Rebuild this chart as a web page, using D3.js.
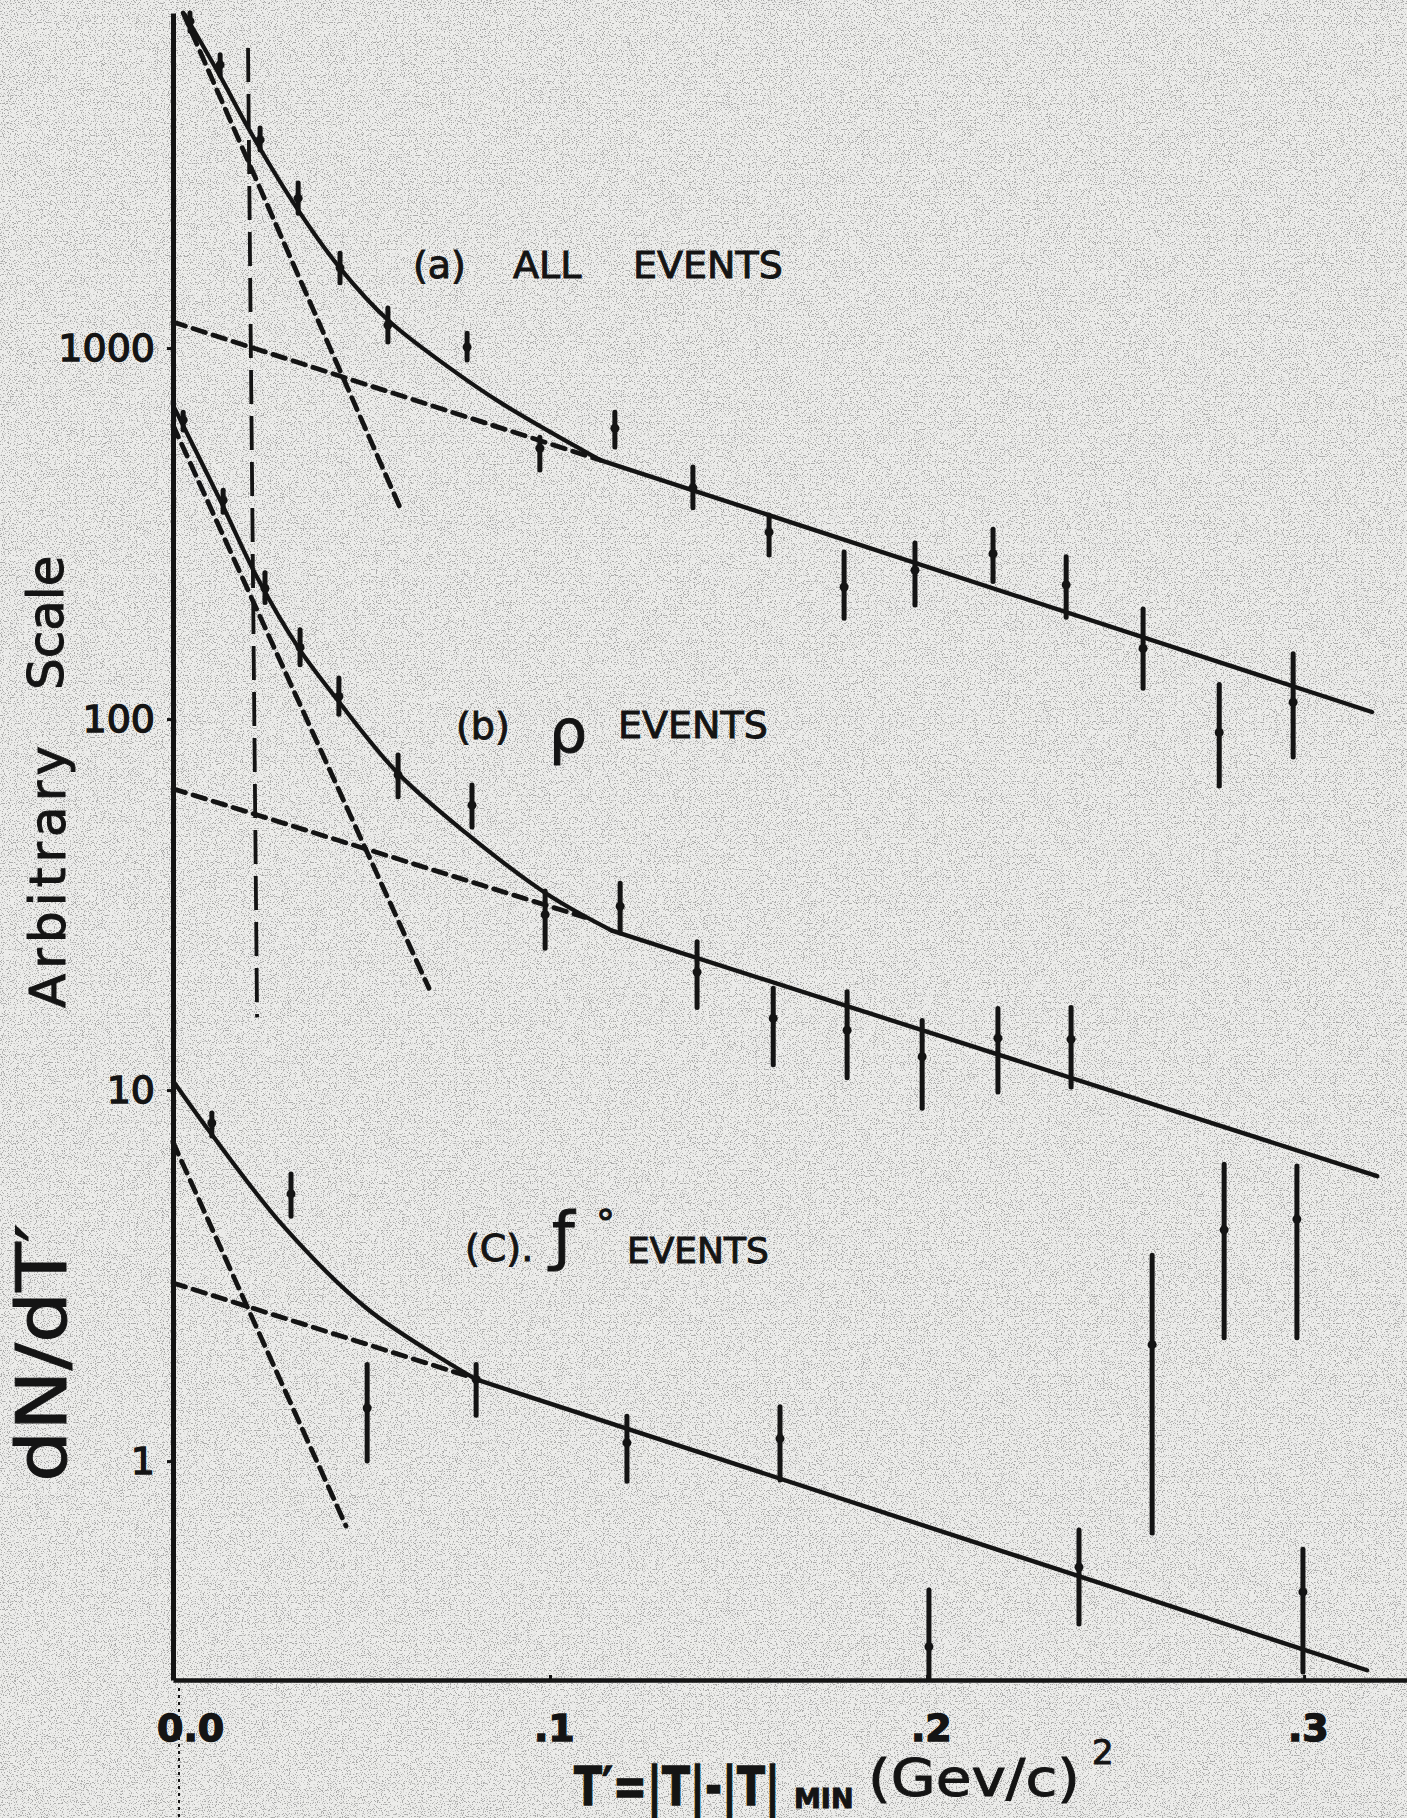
<!DOCTYPE html>
<html lang="en">
  <head>
    <meta charset="UTF-8" />
    <title>dN/dT' versus T' : all, rho and f events</title>
    <script src="https://d3js.org/d3.v7.min.js"></script>
    <style>
      body { margin: 0; background: #ececea; }
      svg { display: block; }
      .lbl { font-family: "DejaVu Sans", sans-serif; fill: #141414; stroke: #141414; stroke-width: 1px; }
      .axis text { font-family: "DejaVu Sans", sans-serif; fill: #141414; stroke: #141414; stroke-width: 1.4px; }
    </style>
  </head>
  <body>
    <svg id="chart" width="1407" height="1818"></svg>

    <script>
      // ---- data: [T', value, low, high] ----
      const allEvents = [
        [0.0045, 7600, 7150, 8000],
        [0.0125, 5800, 5440, 6170],
        [0.0231, 3640, 3420, 3920],
        [0.0332, 2535, 2310, 2785],
        [0.0443, 1645, 1500, 1800],
        [0.057, 1153, 1038, 1283],
        [0.078, 1006, 929, 1097],
        [0.0973, 537, 469, 575],
        [0.1172, 608, 541, 671],
        [0.1379, 420, 371, 478],
        [0.1581, 319, 277, 355],
        [0.178, 227, 187, 282],
        [0.1968, 252, 203, 298],
        [0.2175, 279, 235, 325],
        [0.2369, 230, 188, 274],
        [0.2573, 155, 121, 198],
        [0.2775, 92, 66, 124],
        [0.2971, 111, 79, 150]
      ];
      const rhoEvents = [
        [0.0027, 640, 601, 671],
        [0.0133, 389, 361, 414],
        [0.0244, 225, 206, 248],
        [0.0337, 156, 140, 174],
        [0.044, 115, 103, 129],
        [0.0597, 70.7, 61.7, 80],
        [0.0793, 58.6, 51.2, 66.4],
        [0.0987, 29.7, 24.1, 34.4],
        [0.1186, 31.3, 26.5, 36.1],
        [0.139, 20.8, 16.7, 25.1],
        [0.1592, 15.6, 11.7, 18.8],
        [0.1788, 14.5, 10.8, 18.4],
        [0.1987, 12.3, 8.94, 15.4],
        [0.2188, 13.8, 9.88, 16.6],
        [0.2382, 13.7, 10.2, 16.7]
      ];
      const fEvents = [
        [0.0103, 8.15, 7.52, 8.67],
        [0.0313, 5.25, 4.57, 5.94],
        [0.0515, 1.39, 1.0, 1.82],
        [0.0804, 1.66, 1.33, 1.82],
        [0.1204, 1.12, 0.883, 1.32],
        [0.161, 1.15, 0.889, 1.4],
        [0.2005, 0.316, 0.258, 0.449],
        [0.2403, 0.518, 0.364, 0.652],
        [0.2597, 2.06, 0.64, 3.59],
        [0.2788, 4.2, 2.15, 6.31],
        [0.2981, 4.49, 2.15, 6.24],
        [0.2997, 0.444, 0.27, 0.579]
      ];

      // fitted curves: curved head (solid), straight tail (solid), two dashed components
      const allHead = [[0.0032, 7900], [0.0125, 5410], [0.0204, 3846], [0.0332, 2355], [0.0443, 1643],
        [0.057, 1190], [0.0727, 894], [0.0875, 706], [0.1133, 499]];
      const allTail = [[0.1133, 499], [0.318, 104.5]];
      const allSteep = [[0.0027, 8000], [0.0602, 372]];
      const allFlat = [[0, 1175], [0.1133, 499]];

      const rhoHead = [[0, 702], [0.0125, 389], [0.0223, 241], [0.0332, 156], [0.0438, 112], [0.0594, 71.9],
        [0.0775, 49.5], [0.0995, 33.6], [0.1164, 26.9]];
      const rhoTail = [[0.1164, 26.9], [0.3194, 5.86]];
      const rhoSteep = [[0, 620], [0.0679, 18.8]];
      const rhoFlat = [[0, 64.9], [0.1093, 29.2]];

      const fHead = [[0, 10.6], [0.0098, 7.71], [0.0297, 4.25], [0.052, 2.55], [0.0804, 1.66]];
      const fTail = [[0.0804, 1.66], [0.3167, 0.273]];
      const fSteep = [[0, 7.24], [0.0459, 0.668]];
      const fFlat = [[0, 3.02], [0.0793, 1.68]];

      // long-dash vertical marker
      const cutLine = [[0.0199, 6440], [0.0223, 15.7]];

      const xTicks = [0, 0.1, 0.2, 0.3];
      const xTickLabels = ["0.0", ".1", ".2", ".3"];
      const yTicks = [1, 10, 100, 1000];
      const yTickLabels = ["1", "10", "100", "1000"];

      const svg = d3.select("#chart");
      const W = +svg.attr("width");
      const H = +svg.attr("height");
      const ink = "#141414";

      // paper with a little grain
      const defs = svg.append("defs");
      const grain = defs.append("filter").attr("id", "grain")
        .attr("x", 0).attr("y", 0).attr("width", "100%").attr("height", "100%");
      grain.append("feTurbulence").attr("type", "fractalNoise")
        .attr("baseFrequency", 0.85).attr("numOctaves", 2).attr("seed", 7);
      grain.append("feColorMatrix").attr("type", "matrix")
        .attr("values", "0 0 0 0 0  0 0 0 0 0  0 0 0 0 0  -9 0 0 0 4.0");
      svg.append("rect").attr("width", W).attr("height", H).attr("fill", "#ececea");
      svg.append("rect").attr("width", W).attr("height", H).attr("filter", "url(#grain)").attr("opacity", 0.28);

      // scales
      const x = d3.scaleLinear().domain([0, 0.3273]).range([173, 1407]);
      const y = d3.scaleLog().domain([0.257, 8000]).range([1680, 13]);

      const plot = svg.append("g");
      const line = d3.line().x(d => x(d[0])).y(d => y(d[1]));
      const smooth = d3.line().x(d => x(d[0])).y(d => y(d[1])).curve(d3.curveCatmullRom.alpha(0.5));

      // solid fits
      [allHead, rhoHead, fHead].forEach(s => {
        plot.append("path").attr("d", smooth(s)).attr("fill", "none")
          .attr("stroke", ink).attr("stroke-width", 4.2).attr("stroke-linecap", "round");
      });
      [allTail, rhoTail, fTail].forEach(s => {
        plot.append("path").attr("d", line(s)).attr("fill", "none")
          .attr("stroke", ink).attr("stroke-width", 4.4).attr("stroke-linecap", "round");
      });

      // dashed components
      [allSteep, allFlat, rhoSteep, rhoFlat, fSteep, fFlat].forEach(s => {
        plot.append("path").attr("d", line(s)).attr("fill", "none")
          .attr("stroke", ink).attr("stroke-width", 4.8)
          .attr("stroke-dasharray", "13 8").attr("stroke-linecap", "round");
      });

      plot.append("path").attr("d", line(cutLine)).attr("fill", "none")
        .attr("stroke", ink).attr("stroke-width", 3.8).attr("stroke-dasharray", "34 12");

      // error bars
      function drawPoints(data) {
        const g = plot.append("g");
        g.selectAll("line").data(data).join("line")
          .attr("x1", d => x(d[0])).attr("x2", d => x(d[0]))
          .attr("y1", d => y(d[3])).attr("y2", d => y(d[2]))
          .attr("stroke", ink).attr("stroke-width", 5).attr("stroke-linecap", "round");
        g.selectAll("circle").data(data).join("circle")
          .attr("cx", d => x(d[0])).attr("cy", d => y(d[1])).attr("r", 4.5)
          .attr("fill", ink);
      }
      drawPoints(allEvents);
      drawPoints(rhoEvents);
      drawPoints(fEvents);

      // axes
      const yAxis = svg.append("g").attr("class", "axis")
        .attr("transform", `translate(${x(0)},0)`)
        .call(d3.axisLeft(y).tickValues(yTicks).tickFormat((d, i) => yTickLabels[i])
          .tickSizeInner(6).tickSizeOuter(0).tickPadding(12));
      yAxis.select(".domain").attr("stroke", ink).attr("stroke-width", 5);
      yAxis.selectAll(".tick line").attr("stroke", ink).attr("stroke-width", 3);
      yAxis.selectAll("text").attr("font-size", 38);

      const xAxis = svg.append("g").attr("class", "axis")
        .attr("transform", `translate(0,${y.range()[0]})`)
        .call(d3.axisBottom(x).tickValues(xTicks).tickFormat((d, i) => xTickLabels[i])
          .tickSizeInner(-5).tickSizeOuter(0).tickPadding(34));
      xAxis.select(".domain").attr("stroke", ink).attr("stroke-width", 4.6);
      xAxis.selectAll(".tick line").attr("stroke", ink).attr("stroke-width", 3);
      xAxis.selectAll("text").attr("font-size", 38).attr("font-weight", "bold")
        .attr("dx", d => (d === 0 ? "0.45em" : "0.1em"));

      // dotted guide under the origin
      svg.append("line").attr("x1", x(0) + 6).attr("x2", x(0) + 6)
        .attr("y1", y.range()[0] + 8).attr("y2", H)
        .attr("stroke", ink).attr("stroke-width", 2).attr("stroke-dasharray", "3 4");

      // panel captions
      function caption(parts) {
        const t = svg.append("text").attr("class", "lbl");
        parts.forEach(p => {
          t.append("tspan").attr("x", p.x).attr("y", p.y)
            .attr("font-size", p.size || 38)
            .text(p.s);
        });
      }
      caption([{ s: "(a)", x: 413, y: 278 }, { s: "ALL", x: 513, y: 278 }, { s: "EVENTS", x: 633, y: 278 }]);
      caption([{ s: "(b)", x: 456, y: 739 }, { s: "ρ", x: 549, y: 752, size: 60 }, { s: "EVENTS", x: 618, y: 738 }]);
      caption([{ s: "(C).", x: 465, y: 1261 }, { s: "ƒ", x: 552, y: 1258, size: 64 },
        { s: "°", x: 596, y: 1236 }, { s: "EVENTS", x: 627, y: 1263, size: 36 }]);

      // y title
      svg.append("text").attr("class", "lbl").attr("font-size", 50)
        .attr("textLength", 262).attr("lengthAdjust", "spacing")
        .attr("transform", "translate(65,1008) rotate(-90)").text("Arbitrary");
      svg.append("text").attr("class", "lbl").attr("font-size", 50)
        .attr("transform", "translate(63,690) rotate(-90)").text("Scale");
      svg.append("text").attr("class", "lbl").attr("font-size", 70)
        .attr("textLength", 258).attr("lengthAdjust", "spacingAndGlyphs")
        .attr("transform", "translate(66,1482) rotate(-90)").text("dN/dT′");

      // x title: tall narrow lettering via a vertical stretch
      svg.append("text").attr("class", "lbl").attr("font-size", 41).attr("font-weight", "bold")
        .attr("transform", "translate(574,1805) scale(1,1.32)").text("T′=|T|-|T|");
      svg.append("text").attr("class", "lbl").attr("font-size", 27).attr("font-weight", "bold")
        .attr("transform", "translate(794,1808)").text("MIN");
      svg.append("text").attr("class", "lbl").attr("font-size", 52)
        .attr("textLength", 212).attr("lengthAdjust", "spacingAndGlyphs")
        .attr("transform", "translate(868,1796)").text("(Gev/c)");
      svg.append("text").attr("class", "lbl").attr("font-size", 34)
        .attr("transform", "translate(1092,1764)").text("2");
    </script>
  </body>
</html>
